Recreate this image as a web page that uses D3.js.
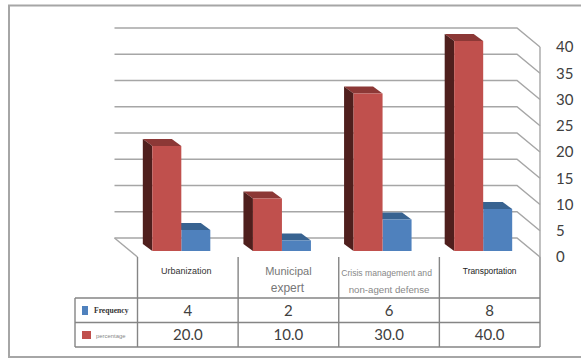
<!DOCTYPE html>
<html>
<head>
<meta charset="utf-8">
<script src="https://cdn.jsdelivr.net/npm/d3@7"></script>
<style>
  html, body { margin: 0; padding: 0; background: #fff; }
  svg { display: block; }
</style>
</head>
<body>
<div id="chart"></div>
<script>
const categories = ["Urbanization", "Municipal expert", "Crisis management and non-agent defense", "Transportation"];
const frequency = [4, 2, 6, 8];
const percentage = [20.0, 10.0, 30.0, 40.0];
const yTicks = [0, 5, 10, 15, 20, 25, 30, 35, 40];

const width = 581, height = 358;
const grid = "#a6a6a6", tableLine = "#858585";

const svg = d3.select("#chart").append("svg")
  .attr("width", width)
  .attr("height", height);

// Front plane of the pseudo 3D box
const x = d3.scaleBand().domain(categories).range([137.5, 540]);
const y = d3.scaleLinear().domain([0, 40]).range([257, 47]);

// Depth of the box walls, and of each column inside it
const wall = { dx: -23, dy: -19 };
const depth = { dx: -9.5, dy: -7 };
const baseShift = { dx: -6.5, dy: -6 };
const barW = 29;

// Outer frame, open on the right
svg.append("path")
  .attr("d", `M${width},5.5 H9 V357 H${width}`)
  .attr("fill", "none")
  .attr("stroke", "#a6a6a6")
  .attr("stroke-width", 2);

// Back wall gridlines and their run along the side wall
const gridG = svg.append("g")
  .attr("fill", "none")
  .attr("stroke", grid)
  .attr("stroke-width", 1.4);

gridG.selectAll("path")
  .data(yTicks)
  .join("path")
  .attr("d", d => `M${x.range()[0] + wall.dx},${y(d) + wall.dy} H${x.range()[1] + wall.dx} L${x.range()[1]},${y(d)}`);

gridG.append("line")
  .attr("x1", x.range()[1]).attr("x2", x.range()[1])
  .attr("y1", y(40)).attr("y2", y(0));

// Floor, left edge
gridG.append("line")
  .attr("x1", x.range()[0] + wall.dx).attr("y1", y(0) + wall.dy)
  .attr("x2", x.range()[0]).attr("y2", y(0));

// Value axis
const axis = svg.append("g")
  .attr("transform", "translate(540,0)")
  .call(d3.axisRight(y).tickValues(yTicks).tickSize(0).tickPadding(16));
axis.select(".domain").remove();
axis.selectAll("text")
  .attr("font-family", "Lato, 'Open Sans', sans-serif")
  .attr("font-size", 15)
  .attr("fill", "#404040");

function column(g, left, value, front, side, top) {
  const x0 = left, x1 = left + barW;
  const yTop = y(value) + baseShift.dy, yBase = y(0) + baseShift.dy;
  g.append("path").attr("fill", top)
    .attr("d", `M${x0},${yTop} L${x0 + depth.dx},${yTop + depth.dy} H${x1 + depth.dx} L${x1},${yTop} Z`);
  if (side) {
    g.append("path").attr("fill", side)
      .attr("d", `M${x0},${yTop} L${x0 + depth.dx},${yTop + depth.dy} V${yBase + depth.dy} L${x0},${yBase} Z`);
  }
  g.append("rect").attr("fill", front)
    .attr("x", x0).attr("y", yTop)
    .attr("width", barW).attr("height", yBase - yTop);
}

// Columns: red on the left, blue butted against it
categories.forEach((c, i) => {
  const g = svg.append("g");
  const mid = x(c) + x.bandwidth() / 2 + baseShift.dx;
  column(g, mid, frequency[i], "#4f81bd", null, "#386391");
  column(g, mid - barW, percentage[i], "#c0504d", "#4f1f1d", "#8c3836");
});

// Data table
const tableG = svg.append("g")
  .attr("stroke", tableLine)
  .attr("stroke-width", 1.4)
  .attr("fill", "none");

const rowY = [298, 322.5, 347];
const edges = categories.map(c => x(c)).concat(x.range()[1]);
const tableLeft = 75;

tableG.selectAll(".col")
  .data(edges)
  .join("line")
  .attr("class", "col")
  .attr("x1", d => d).attr("x2", d => d)
  .attr("y1", y(0)).attr("y2", rowY[2]);

tableG.append("line")
  .attr("x1", tableLeft).attr("x2", tableLeft)
  .attr("y1", rowY[0]).attr("y2", rowY[2]);

tableG.selectAll(".row")
  .data(rowY)
  .join("line")
  .attr("class", "row")
  .attr("x1", tableLeft).attr("x2", x.range()[1])
  .attr("y1", d => d).attr("y2", d => d);

// Value rows
const cellText = (values, rowIndex, fmt) => svg.append("g")
  .selectAll("text")
  .data(values)
  .join("text")
  .attr("x", (d, i) => x(categories[i]) + x.bandwidth() / 2)
  .attr("y", (rowY[rowIndex] + rowY[rowIndex + 1]) / 2 + 5.5)
  .attr("text-anchor", "middle")
  .attr("font-family", "Lato, 'Open Sans', sans-serif")
  .attr("font-size", 15)
  .attr("fill", "#404040")
  .text(fmt);

cellText(frequency, 0, d => d);
cellText(percentage, 1, d => d.toFixed(1));

// Legend keys in the first column
svg.append("rect").attr("x", 82).attr("y", 306).attr("width", 6).attr("height", 9).attr("fill", "#4f81bd");
svg.append("rect").attr("x", 82).attr("y", 331).attr("width", 9).attr("height", 8).attr("fill", "#c0504d");
svg.append("text").attr("x", 94).attr("y", 312.5)
  .attr("font-family", "'Liberation Serif', serif").attr("font-size", 7.6).attr("font-weight", "bold")
  .attr("fill", "#333").text("Frequency");
svg.append("text").attr("x", 96).attr("y", 338)
  .attr("font-family", "'Liberation Sans', sans-serif").attr("font-size", 5.9)
  .attr("fill", "#888").text("percentage");

// Category labels, each line set at its own size
const labelFont = "'Liberation Sans', Arial, sans-serif";
const label = (cat, lines) => {
  lines.forEach(l => {
    svg.append("text")
      .attr("x", x(cat) + x.bandwidth() / 2 + l.shift)
      .attr("y", l.y)
      .attr("text-anchor", "middle")
      .attr("font-family", labelFont)
      .attr("font-size", l.size)
      .attr("fill", l.fill)
      .text(l.text);
  });
};
label(categories[0], [{ text: "Urbanization", size: 9, fill: "#333", y: 274, shift: -1.5 }]);
label(categories[1], [
  { text: "Municipal", size: 11, fill: "#777", y: 275, shift: 0 },
  { text: "expert", size: 12, fill: "#777", y: 292, shift: -1 }
]);
label(categories[2], [
  { text: "Crisis management and", size: 8.6, fill: "#888", y: 276, shift: -2.5 },
  { text: "non-agent defense", size: 9.7, fill: "#888", y: 293, shift: 0 }
]);
label(categories[3], [{ text: "Transportation", size: 8.4, fill: "#222", y: 274, shift: 0 }]);
</script>
</body>
</html>
